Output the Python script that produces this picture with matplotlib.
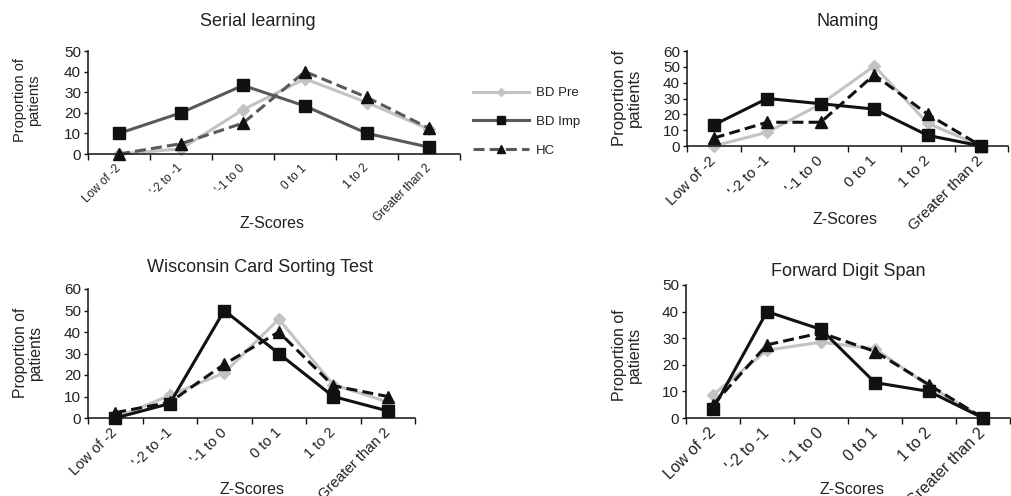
import matplotlib
matplotlib.use("Agg")
import matplotlib.pyplot as plt

plt.rcParams['font.family'] = ['Liberation Sans', 'DejaVu Sans']

categories = ["Low of -2", "'-2 to -1", "'-1 to 0", "0 to 1", "1 to 2", "Greater than 2"]
series_names = ["BD Pre", "BD Imp", "HC"]

serial_pre = [0, 2.5, 21.5, 36.5, 25, 12]
serial_imp = [10, 20, 33.3, 23.3, 10, 3.3]
serial_hc = [0, 5, 15, 40, 27.5, 12.5]

naming_pre = [0, 8.7, 26.5, 50.5, 14.3, 0]
naming_imp = [13.3, 30, 26.7, 23.3, 6.7, 0]
naming_hc = [5, 15, 15, 45, 20, 0]

wcst_pre = [0, 10.5, 21, 46, 15.5, 7.5]
wcst_imp = [0, 6.7, 50, 30, 10, 3.3]
wcst_hc = [2.5, 7.3, 25, 40, 15, 10]

fds_pre = [8.7, 25.5, 28.5, 26, 12, 0]
fds_imp = [3.3, 40, 33.3, 13.3, 10, 0]
fds_hc = [5, 27.5, 32, 25, 12.5, 0]

W, H = 1011, 496
fig = plt.figure(figsize=(W / 100, H / 100), dpi=100)
txt = '#222222'
gray = '#c3c3c3'


def px_axes(left, right, top, bottom):
    return fig.add_axes([left / W, 1 - bottom / H, (right - left) / W, (bottom - top) / H])


def draw_panel(ax, pre, imp, hc, ymax, title, imp_color, xt_size, title_xy, ylab_x, ylab_y, ylab_size, xlab_xy):
    x = list(range(len(categories)))
    l1, = ax.plot(x, pre, color=gray, lw=2.2, marker='D', ms=6, mfc=gray, mec=gray, label=series_names[0])
    l2, = ax.plot(x, imp, color=imp_color, lw=2.2, marker='s', ms=8.5, mfc='#111111', mec='#111111', label=series_names[1])
    l3, = ax.plot(x, hc, color=imp_color, lw=2.2, ls=(0, (3.6, 1.7)), marker='^', ms=8.5, mfc='#111111', mec='#111111', label=series_names[2])
    ax.set_xlim(-0.5, len(categories) - 0.5)
    ax.set_ylim(0, ymax)
    ax.set_yticks(range(0, ymax + 1, 10))
    ax.set_xticks([i - 0.5 for i in range(len(categories) + 1)])
    ax.set_xticklabels([])
    ax.set_xticks(x, minor=True)
    ax.set_xticklabels(categories, minor=True, rotation=45, ha='right', va='center',
                       rotation_mode='anchor', fontsize=xt_size, color=txt)
    ax.tick_params(axis='x', which='minor', length=0, pad=9)
    ax.tick_params(axis='x', which='major', direction='out', length=4, width=1, color='#111111')
    ax.tick_params(axis='y', direction='out', length=3, width=1, color='#111111', labelsize=11, labelcolor=txt, pad=2)
    for s in ['top', 'right']:
        ax.spines[s].set_visible(False)
    for s in ['left', 'bottom']:
        ax.spines[s].set_color('#111111')
        ax.spines[s].set_linewidth(1.1)
    for ln in (l1, l2, l3):
        ln.set_clip_on(False)
    fig.text(title_xy[0] / W, 1 - title_xy[1] / H, title, ha='center', va='center', fontsize=13, color=txt)
    fig.text(ylab_x / W, 1 - ylab_y / H, 'Proportion of\npatients', rotation=90, ha='center', va='center',
             multialignment='center', fontsize=ylab_size, color=txt, linespacing=1.0)
    fig.text(xlab_xy[0] / W, 1 - xlab_xy[1] / H, 'Z-Scores', ha='center', va='center', fontsize=11.5, color=txt)
    return l1, l2, l3


ax1 = px_axes(88, 460, 51, 154)
handles = draw_panel(ax1, serial_pre, serial_imp, serial_hc, 50, 'Serial learning', '#595959', 8.5,
                     (258, 22), 27, 100, 10.5, (272, 223))

ax2 = px_axes(687, 1008, 51, 146)
draw_panel(ax2, naming_pre, naming_imp, naming_hc, 60, 'Naming', '#111111', 11,
           (848, 22), 627, 98, 12, (845, 220))

ax3 = px_axes(88, 415, 289, 418)
draw_panel(ax3, wcst_pre, wcst_imp, wcst_hc, 60, 'Wisconsin Card Sorting Test', '#111111', 10.5,
           (260, 268), 28, 353, 11.3, (252, 490))

ax4 = px_axes(686, 1010, 285, 418)
draw_panel(ax4, fds_pre, fds_imp, fds_hc, 50, 'Forward Digit Span', '#111111', 11.5,
           (848, 272), 627, 355, 11.5, (852, 490))

fig.legend(handles=list(handles), labels=series_names, loc='center left',
           bbox_to_anchor=(466 / W, 1 - 122 / H), frameon=False, fontsize=9.5,
           handlelength=4.3, handletextpad=0.5, labelspacing=1.25, borderpad=0,
           markerscale=0.7, labelcolor=txt)

fig.savefig('out.png', dpi=100)
